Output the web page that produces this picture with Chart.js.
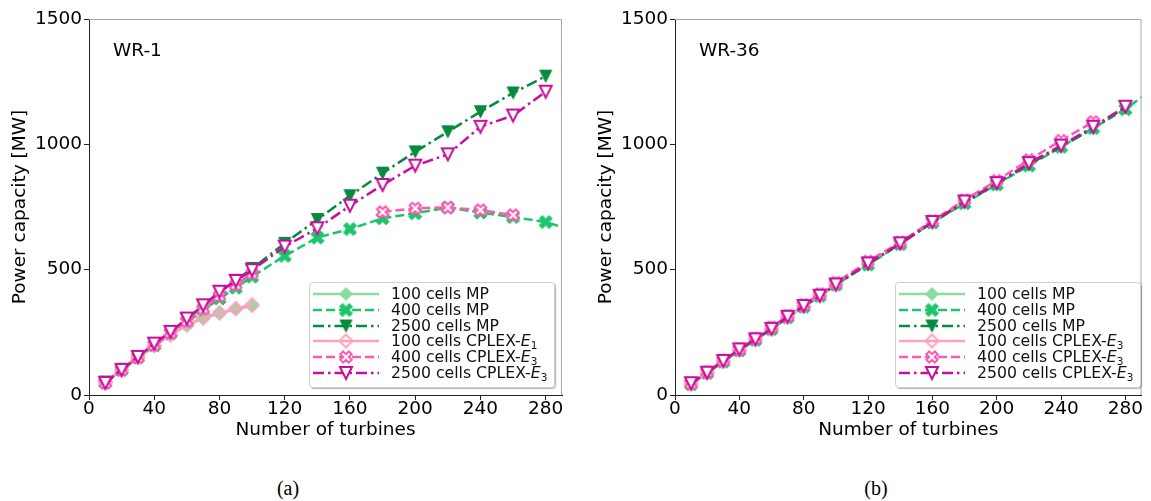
<!DOCTYPE html>
<html><head><meta charset="utf-8">
<script src="https://cdn.jsdelivr.net/npm/chart.js@4.4.1/dist/chart.umd.min.js"></script>
<style>
html,body{margin:0;padding:0;background:#fff;}
body{width:1151px;height:501px;position:relative;overflow:hidden;font-family:'DejaVu Sans',sans-serif;}
.wrap{position:absolute;top:0;}
.ann{position:absolute;font-size:18.5px;color:#000;line-height:22px;top:39px;}
.cap{position:absolute;font-family:'Liberation Serif','Times New Roman',serif;font-size:20px;top:477px;transform:translateX(-50%);color:#000;}
.legend{position:absolute;top:282px;width:246px;height:106px;box-sizing:border-box;border:1px solid #cfcfcf;border-radius:4px;background:rgba(255,255,255,0.85);box-shadow:1px 1px 1px rgba(0,0,0,0.3);padding-top:3px;}
.row{height:15.8px;display:flex;align-items:center;white-space:nowrap;font-size:15.7px;line-height:15.8px;color:#111;}
.row canvas{margin-left:3px;margin-right:12px;display:block;}
.row sub{font-size:10.5px;vertical-align:-3px;line-height:0;}
</style></head>
<body>
<div class="wrap" style="left:0;width:575px;height:450px;"><canvas id="c1" width="575" height="450"></canvas></div>
<div class="wrap" style="left:586px;width:565px;height:450px;"><canvas id="c2" width="565" height="450"></canvas></div>
<div class="ann" style="left:113px;">WR-1</div>
<div class="ann" style="left:699px;">WR-36</div>
<div class="legend" id="leg1" style="left:309px;"></div>
<div class="legend" id="leg2" style="left:895px;"></div>
<div class="cap" style="left:288px;">(a)</div>
<div class="cap" style="left:876px;">(b)</div>
<script>
// ---- data ----
const xSmall = [10,20,30,40,50,60,70,80,90,100];
const xFull = [10,20,30,40,50,60,70,80,90,100,120,140,160,180,200,220,240,260,280];
const xFullExt = [10,20,30,40,50,60,70,80,90,100,120,140,160,180,200,220,240,260,280,300];
const xTo260 = [10,20,30,40,50,60,70,80,90,100,120,140,160,180,200,220,240,260];
const xTicks = [0,40,80,120,160,200,240,280];
const yTicks = [0,500,1000,1500];

// WR-1
const wr1_mp100   = [50,100,148,195,238,278,305,325,342,355];
const wr1_mp400   = [50,100,150,198,245,290,338,385,428,472,555,628,662,705,725,748,728,710,690,650];
const wr1_mp2500  = [52,102,152,202,250,302,355,410,458,505,605,700,795,885,970,1050,1130,1205,1272];
const wr1_cp100   = [50,100,150,197,240,280,308,328,345,360];
const wr1_cp400   = [48,100,150,200,248,295,345,395,440,485,null,null,null,730,745,748,738,718];
const wr1_cp2500  = [48,100,152,205,252,305,358,412,455,498,592,665,755,838,915,960,1070,1115,1210];

// WR-36
const wr36_mp100  = [42,88,133,178,220,262,308,352,395,438];
const wr36_mp400  = [43,88,133,178,220,263,310,352,395,440,520,602,688,765,840,915,990,1065,1140,1235];
const wr36_mp2500 = [45,89,134,179,221,263,311,353,396,440,522,603,688,768,842,920,990,1063,1148];
const wr36_cp100  = [44,90,136,181,224,267,313,356,400,445];
const wr36_cp400  = [46,92,138,183,226,270,316,360,403,448,533,610,695,778,855,938,1015,1090];
const wr36_cp2500 = [47,89,136,182,222,264,312,355,396,441,525,605,690,772,845,925,995,1070,1150];

const labels1 = ['100 cells MP','400 cells MP','2500 cells MP','100 cells CPLEX-<i>E</i><sub>1</sub>','400 cells CPLEX-<i>E</i><sub>3</sub>','2500 cells CPLEX-<i>E</i><sub>3</sub>'];
const labels2 = ['100 cells MP','400 cells MP','2500 cells MP','100 cells CPLEX-<i>E</i><sub>3</sub>','400 cells CPLEX-<i>E</i><sub>3</sub>','2500 cells CPLEX-<i>E</i><sub>3</sub>'];

// ---- styles ----
const C = {mp100:'#8ddc9f', mp400:'#1cc56a', mp2500:'#078a3d', cp100:'#ffa1bc', cp400:'#ff58b2', cp2500:'#c80e9c'};
const DASH = [9,4], DASHDOT = [11,4,2.5,4];

function markerCanvas(kind, s, fill, stroke, lw){
  const d = Math.ceil(s + lw + 4);
  const cv = document.createElement('canvas');
  cv.width = d; cv.height = d;
  const ctx = cv.getContext('2d');
  const c = d/2, h = s/2;
  ctx.beginPath();
  if (kind === 'diamond') {
    ctx.moveTo(c, c-h); ctx.lineTo(c+h, c); ctx.lineTo(c, c+h); ctx.lineTo(c-h, c); ctx.closePath();
  } else if (kind === 'vtri') {
    ctx.moveTo(c, c+h); ctx.lineTo(c-h, c-h); ctx.lineTo(c+h, c-h); ctx.closePath();
  } else if (kind === 'x') {
    const pts = [[-1,-3],[1,-3],[1,-1],[3,-1],[3,1],[1,1],[1,3],[-1,3],[-1,1],[-3,1],[-3,-1],[-1,-1]];
    const a = Math.PI/4, k = h/3;
    pts.forEach((p,i)=>{
      const x = (p[0]*Math.cos(a) - p[1]*Math.sin(a))*k + c;
      const y = (p[0]*Math.sin(a) + p[1]*Math.cos(a))*k + c;
      if (i===0) ctx.moveTo(x,y); else ctx.lineTo(x,y);
    });
    ctx.closePath();
  }
  if (fill) { ctx.fillStyle = fill; ctx.fill(); }
  ctx.lineWidth = lw; ctx.strokeStyle = stroke; ctx.lineJoin = 'miter'; ctx.stroke();
  return cv;
}

const M = {
  mp100: markerCanvas('diamond', 13, C.mp100, C.mp100, 1),
  mp400: markerCanvas('x', 14, C.mp400, C.mp400, 1),
  mp2500: markerCanvas('vtri', 12, C.mp2500, C.mp2500, 1),
  cp100: markerCanvas('diamond', 13, null, C.cp100, 2),
  cp400: markerCanvas('x', 12, '#fff', C.cp400, 2),
  cp2500: markerCanvas('vtri', 12, '#fff', C.cp2500, 2)
};
const STY = [
  {c:C.mp100, dash:[], m:M.mp100},
  {c:C.mp400, dash:DASH, m:M.mp400},
  {c:C.mp2500, dash:DASHDOT, m:M.mp2500},
  {c:C.cp100, dash:[], m:M.cp100},
  {c:C.cp400, dash:DASH, m:M.cp400},
  {c:C.cp2500, dash:DASHDOT, m:M.cp2500}
];

function ds(i, label, xs, ys){
  const s = STY[i];
  return {label, data: xs.map((x,j)=>({x, y: ys[j]})), borderColor: s.c, backgroundColor: s.c,
    borderWidth: 2.5, borderDash: s.dash, pointStyle: s.m, pointRadius: 7, pointHoverRadius: 7,
    fill: false, tension: 0, spanGaps: false, order: 5 - i};
}

Chart.defaults.font.family = "'DejaVu Sans', sans-serif";
Chart.defaults.color = '#000';

const framePlugin = {
  id: 'frame',
  afterDraw(chart){
    const {ctx, chartArea:a} = chart;
    ctx.save();
    ctx.strokeStyle = '#a8a8a8'; ctx.lineWidth = 1;
    ctx.beginPath();
    ctx.moveTo(a.left, a.top + 0.5); ctx.lineTo(a.right - 0.5, a.top + 0.5); ctx.lineTo(a.right - 0.5, a.bottom);
    ctx.stroke();
    ctx.restore();
  }
};

function makeChart(id, datasets, padRight){
  return new Chart(document.getElementById(id), {
    type: 'line',
    data: {datasets},
    plugins: [framePlugin],
    options: {
      responsive: false, animation: false, devicePixelRatio: 1,
      layout: {padding: {top: 19, right: padRight, bottom: 0, left: 0}},
      plugins: {legend: {display: false}, tooltip: {enabled: false}},
      scales: {
        x: {type: 'linear', min: 0, max: 290,
          afterBuildTicks: s => { s.ticks = xTicks.map(v => ({value: v})); },
          afterFit: s => { s.height = 55; },
          ticks: {font: {size: 18.5}, color: '#000', padding: -2, callback: v => String(v)},
          grid: {drawOnChartArea: false, drawTicks: true, tickLength: 5, color: '#222'},
          border: {color: '#222', width: 1},
          title: {display: true, text: 'Number of turbines', font: {size: 18.5}, color: '#000', padding: {top: 0, bottom: 9}}
        },
        y: {type: 'linear', min: 0, max: 1500,
          afterBuildTicks: s => { s.ticks = yTicks.map(v => ({value: v})); },
          afterFit: s => { s.width = 89; },
          ticks: {font: {size: 18.5}, color: '#000', padding: 2, callback: v => String(v)},
          grid: {drawOnChartArea: false, drawTicks: true, tickLength: 5, color: '#222'},
          border: {color: '#222', width: 1},
          title: {display: true, text: 'Power capacity [MW]', font: {size: 18.5}, color: '#000', padding: {top: 9, bottom: 0}}
        }
      }
    }
  });
}

makeChart('c1', [
  ds(0, '100 cells MP', xSmall, wr1_mp100),
  ds(1, '400 cells MP', xFullExt, wr1_mp400),
  ds(2, '2500 cells MP', xFull, wr1_mp2500),
  ds(3, '100 cells CPLEX-E1', xSmall, wr1_cp100),
  ds(4, '400 cells CPLEX-E3', xTo260, wr1_cp400),
  ds(5, '2500 cells CPLEX-E3', xFull, wr1_cp2500)
], 13);

makeChart('c2', [
  ds(0, '100 cells MP', xSmall, wr36_mp100),
  ds(1, '400 cells MP', xFullExt, wr36_mp400),
  ds(2, '2500 cells MP', xFull, wr36_mp2500),
  ds(3, '100 cells CPLEX-E3', xSmall, wr36_cp100),
  ds(4, '400 cells CPLEX-E3', xTo260, wr36_cp400),
  ds(5, '2500 cells CPLEX-E3', xFull, wr36_cp2500)
], 2);

function buildLegend(id, labels){
  const box = document.getElementById(id);
  labels.forEach((t, i) => {
    const s = STY[i];
    const row = document.createElement('div'); row.className = 'row';
    const cv = document.createElement('canvas'); cv.width = 66; cv.height = 16;
    const ctx = cv.getContext('2d');
    ctx.strokeStyle = s.c; ctx.lineWidth = 2.5; ctx.setLineDash(s.dash);
    ctx.beginPath(); ctx.moveTo(0, 8); ctx.lineTo(66, 8); ctx.stroke();
    ctx.drawImage(s.m, 33 - s.m.width/2, 8 - s.m.height/2);
    const sp = document.createElement('span'); sp.innerHTML = t;
    row.appendChild(cv); row.appendChild(sp); box.appendChild(row);
  });
}
buildLegend('leg1', labels1);
buildLegend('leg2', labels2);
</script>
</body></html>
